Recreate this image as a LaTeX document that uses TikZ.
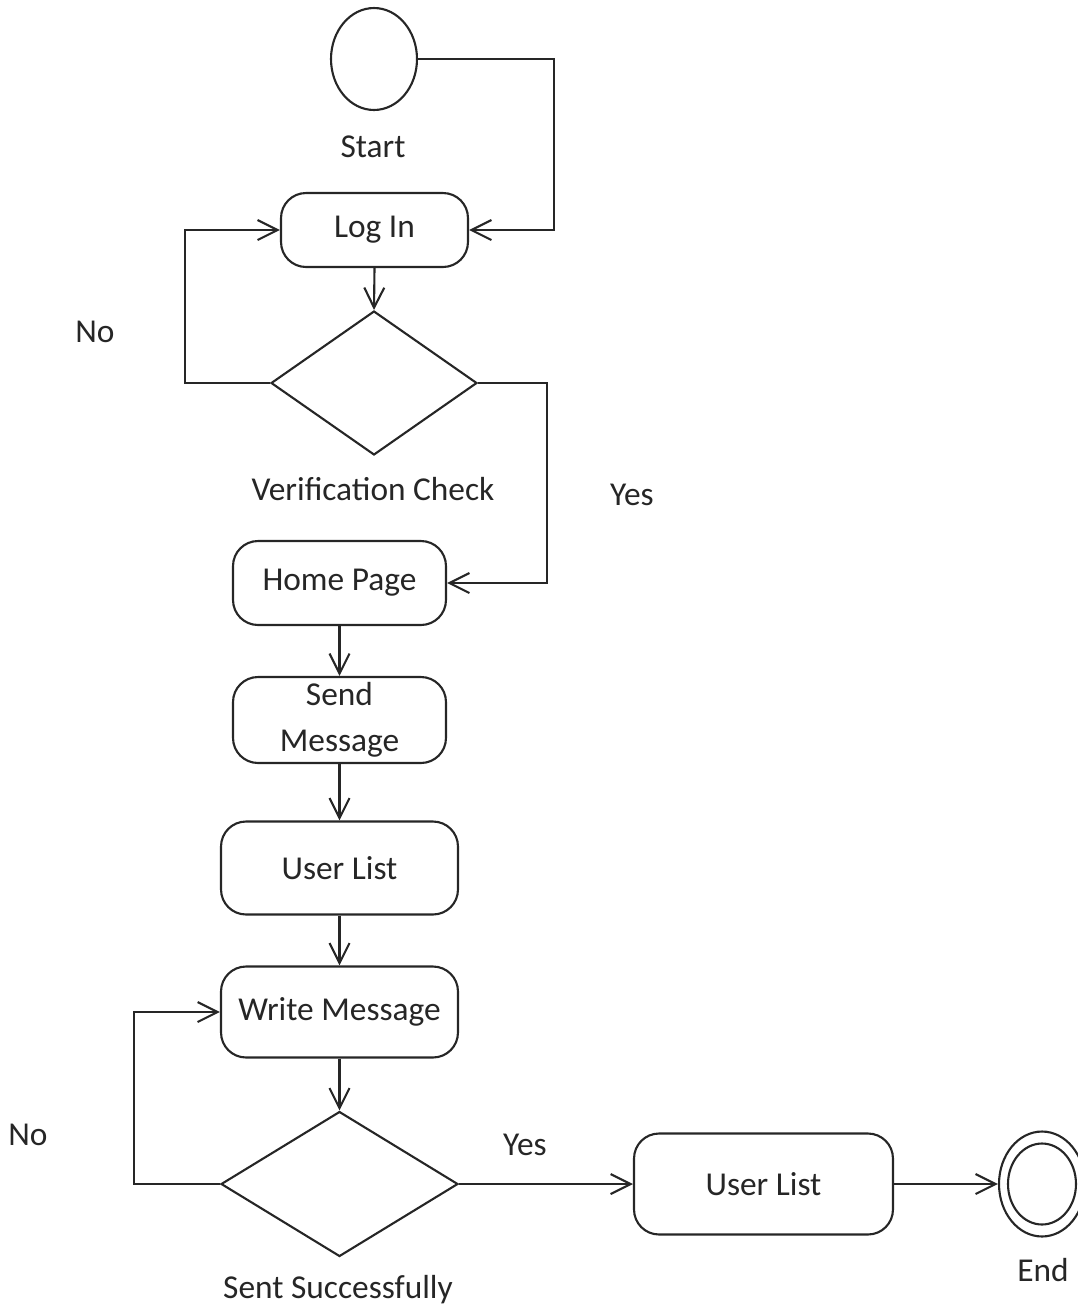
\documentclass[tikz,border=0pt]{standalone}
\usepackage{xcolor}
\usepackage{fontspec}
\setmainfont{Carlito}
\usetikzlibrary{shapes.geometric, arrows.meta}
\colorlet{strokeColor}{black!85}
\colorlet{textColor}{black!85}

\begin{document}
\begin{tikzpicture}[
    x=0.02cm, y=-0.02cm,
    every node/.style={color=textColor, font=\fontsize{19}{26}\selectfont},
    activity/.style={draw=strokeColor, line width=1.2pt, rounded corners=0.5cm, align=center, inner sep=0pt},
    decision/.style={draw=strokeColor, line width=1.2pt, diamond, inner sep=0pt},
    terminal/.style={draw=strokeColor, line width=1.2pt, ellipse, inner sep=0pt},
    flow/.style={draw=strokeColor, line width=1.2pt, -{Straight Barb[length=0.4cm, width=0.4cm]}},
  ]
    \useasboundingbox (0, 0) rectangle (1078, 1313);

    \node[terminal, minimum width=1.72cm, minimum height=2.04cm] (start) at (374, 59) {};
    \node (startLabel) at (373, 147) {Start};
    \node[activity, minimum width=3.74cm, minimum height=1.48cm] (login) at (374.5, 230) {Log In};
    \node[decision, minimum width=4.12cm, minimum height=2.88cm] (verify) at (374, 383) {};
    \node (verifyLabel) at (373, 489) {Verification Check};
    \node[activity, minimum width=4.26cm, minimum height=1.68cm] (home) at (339.5, 583) {Home Page};
    \node[activity, minimum width=4.26cm, minimum height=1.72cm] (send) at (339.5, 720) {Send\\Message};
    \node[activity, minimum width=4.74cm, minimum height=1.86cm] (users) at (339.5, 868) {User List};
    \node[activity, minimum width=4.74cm, minimum height=1.82cm] (write) at (339.5, 1012) {Write Message};
    \node[decision, minimum width=4.74cm, minimum height=2.9cm] (sent) at (339.5, 1184) {};
    \node (sentLabel) at (338, 1290) {Sent Successfully};
    \node[activity, minimum width=5.18cm, minimum height=2.02cm] (usersDone) at (763.5, 1184) {User List};
    \node[terminal, minimum width=1.72cm, minimum height=2.1cm] (finish) at (1042, 1184) {};
    \node[terminal, minimum width=1.36cm, minimum height=1.62cm] (finishInner) at (1042, 1184) {};
    \node (finishLabel) at (1043, 1270) {End};

    \node (noLogin) at (95, 332) {No};
    \node (yesLogin) at (632, 495) {Yes};
    \node (noSent) at (28, 1135) {No};
    \node (yesSent) at (525, 1145) {Yes};

    \coordinate (startTurn) at (554, 59);
    \coordinate (noLoginTurn) at (185, 383);
    \coordinate (yesLoginTurn) at (547, 383);
    \coordinate (noSentTurn) at (134, 1184);

    \draw[flow] (start.east) -- (startTurn) |- (login.east);
    \draw[flow] (login.south) -- (verify.north);
    \draw[flow] (verify.west) -- (noLoginTurn) |- (login.west);
    \draw[flow] (verify.east) -- (yesLoginTurn) |- (home.east);
    \draw[flow] (home.south) -- (send.north);
    \draw[flow] (send.south) -- (users.north);
    \draw[flow] (users.south) -- (write.north);
    \draw[flow] (write.south) -- (sent.north);
    \draw[flow] (sent.west) -- (noSentTurn) |- (write.west);
    \draw[flow] (sent.east) -- (usersDone.west);
    \draw[flow] (usersDone.east) -- (finish.west);
  \end{tikzpicture}
\end{document}
